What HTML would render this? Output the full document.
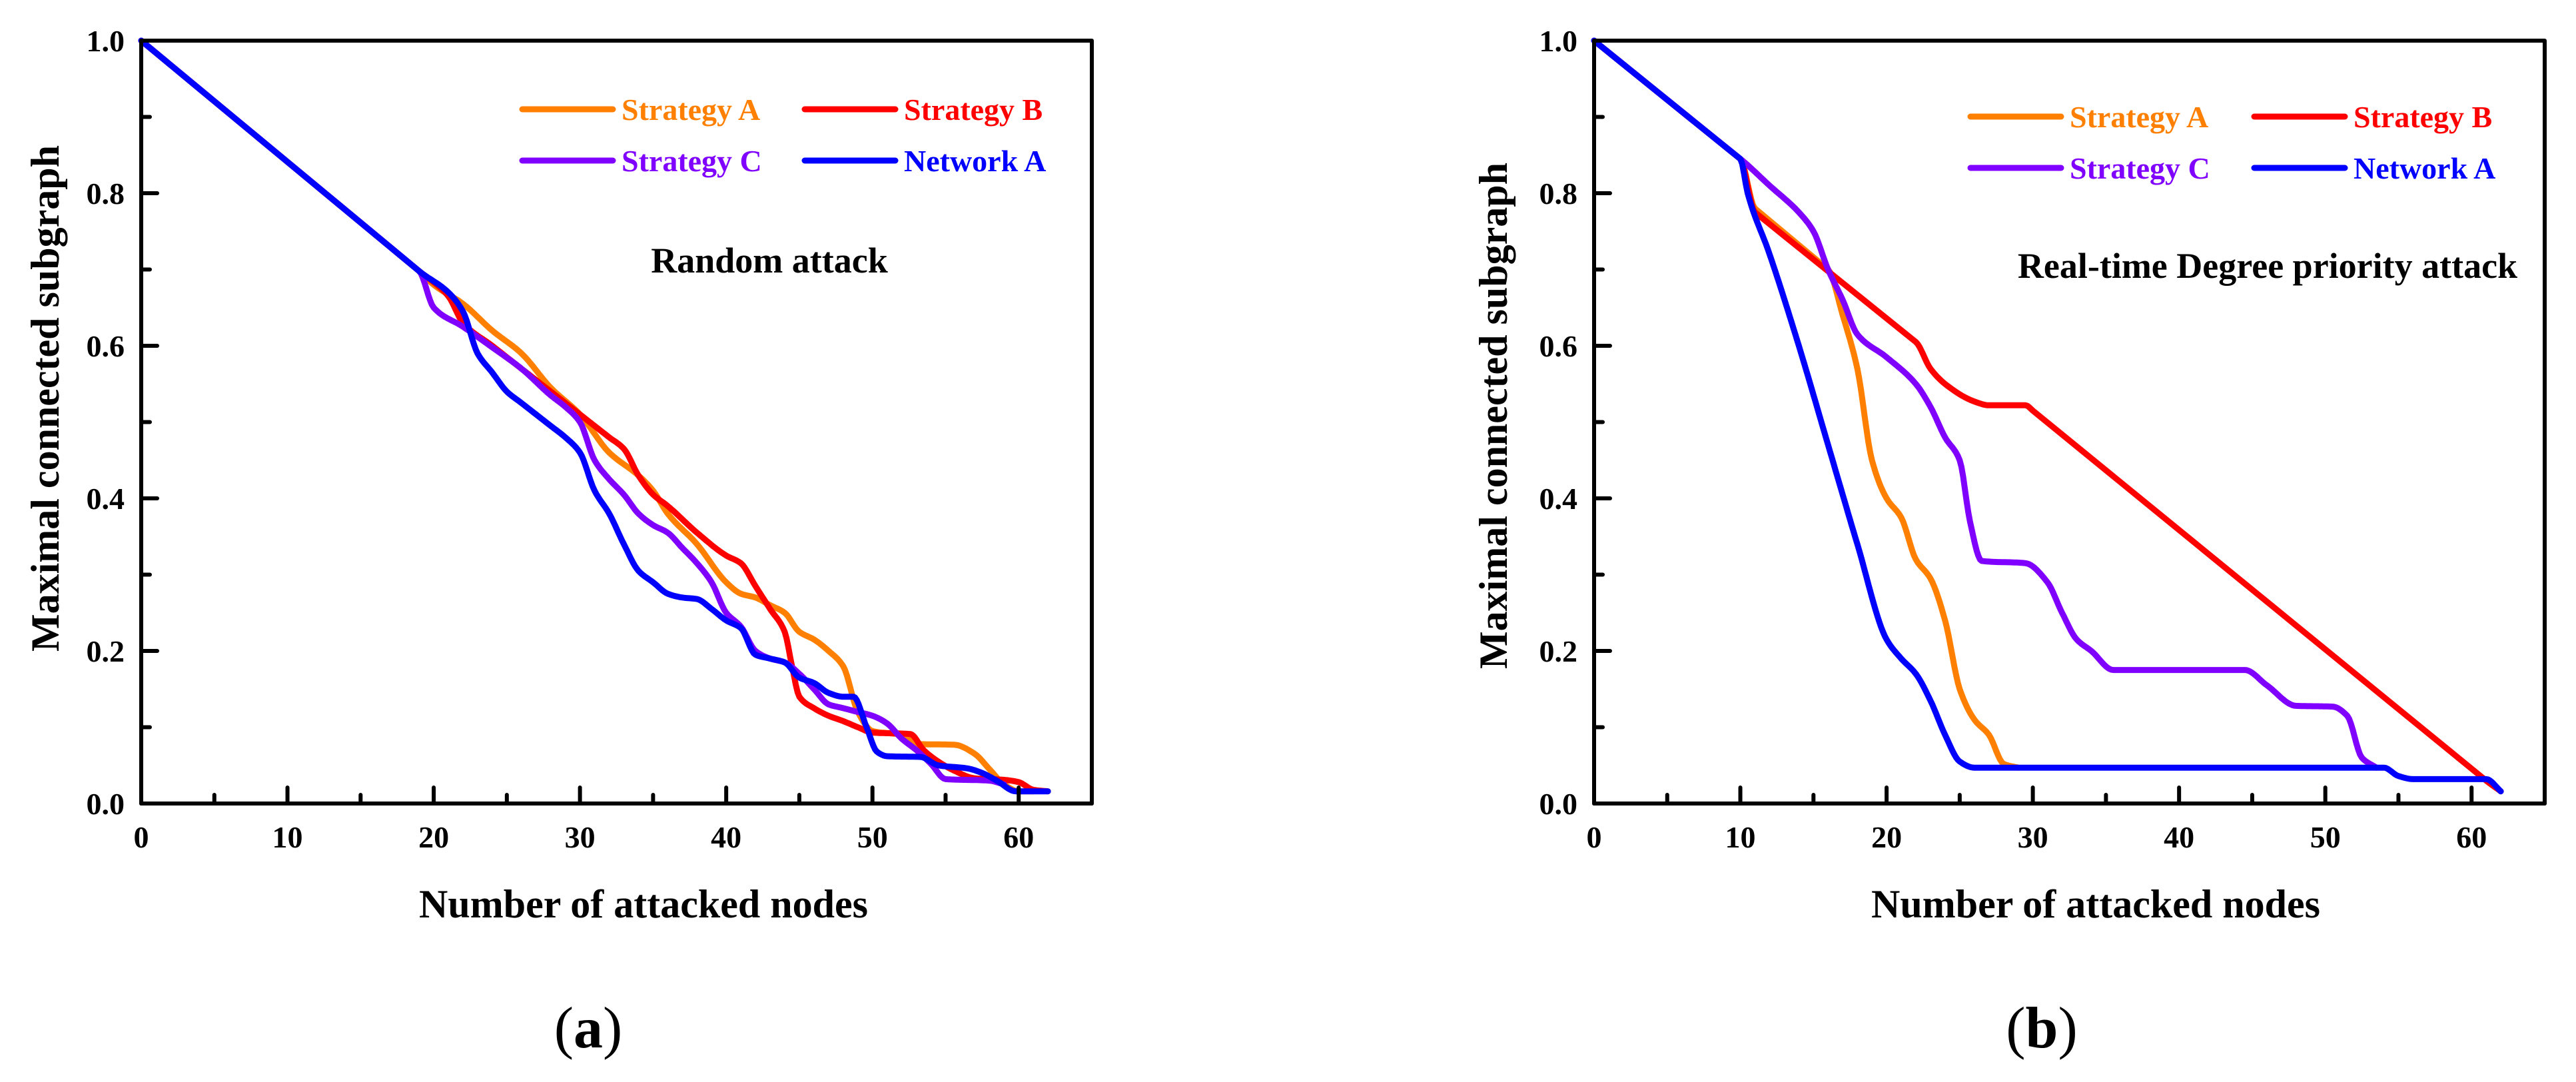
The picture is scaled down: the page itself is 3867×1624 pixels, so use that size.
<!DOCTYPE html>
<html><head><meta charset="utf-8"><style>
html,body{margin:0;padding:0;background:#fff;}
svg{display:block;}
text{font-family:"Liberation Serif","Times New Roman",serif;font-weight:bold;}
</style></head><body>
<svg id="fig" width="3867" height="1624" viewBox="0 0 3867 1624" xmlns="http://www.w3.org/2000/svg"></svg>
<script>
// ---- Panel (a) data: Random attack ----
const aStratAX=[0,19,20,22,24,26,28,30,32,34,35,36,38,40,41,42,43,44,45,46,47,48,49,50,52,53,55.6,57,58,59,60,61];
const aStratAY=[1,0.698,0.68,0.655,0.62,0.59,0.545,0.51,0.46,0.43,0.41,0.38,0.34,0.29,0.275,0.27,0.26,0.25,0.225,0.215,0.2,0.18,0.12,0.095,0.09,0.078,0.077,0.065,0.045,0.025,0.016,0.016];
const aStratBX=[0,19,21,22,24,26,28,30,32,33,34,35,36,38,40,41,42,43,44,44.5,45,46,47,48,49,50,52.6,53.5,54.5,55.6,57,59,60,61,62];
const aStratBY=[1,0.698,0.665,0.63,0.6,0.57,0.54,0.51,0.48,0.465,0.43,0.405,0.39,0.355,0.325,0.315,0.285,0.255,0.225,0.18,0.14,0.125,0.115,0.108,0.1,0.093,0.091,0.07,0.055,0.043,0.033,0.031,0.028,0.018,0.016];
const aStratCX=[0,19,20,22,24,26,28,29,30,31,32,33,34,35,36,37,38,39,40,41,42,43,44,45,46,47,48,49,50,51,52,53,54,55,58,59];
const aStratCY=[1,0.698,0.65,0.625,0.598,0.57,0.535,0.52,0.5,0.45,0.425,0.405,0.38,0.365,0.355,0.335,0.315,0.29,0.25,0.232,0.2,0.19,0.185,0.17,0.15,0.13,0.125,0.12,0.115,0.105,0.085,0.07,0.052,0.032,0.03,0.025];
const aNetX=[0,19,21,22,23,24,25,26,28,29,30,31,32,33,34,35,36,37,38,39,40,41,42,43,44,45,46,47,48,48.7,49.6,50.3,51,53.3,54.5,56.5,57.5,58.5,59.8,62];
const aNetY=[1,0.698,0.67,0.645,0.59,0.565,0.54,0.525,0.495,0.48,0.46,0.41,0.38,0.34,0.305,0.29,0.275,0.27,0.268,0.255,0.24,0.23,0.195,0.19,0.185,0.165,0.158,0.145,0.14,0.14,0.1,0.068,0.062,0.061,0.05,0.046,0.04,0.03,0.016,0.016];
// ---- Panel (b) data: Real-time Degree priority attack ----
const bStratAX=[0,10,11,16,17,18,19,20,21,22,23,24,25,26,27,28,29];
const bStratAY=[1,0.845,0.78,0.7,0.64,0.57,0.45,0.4,0.375,0.32,0.295,0.24,0.15,0.11,0.09,0.052,0.047];
const bStratBX=[0,10,11,22,23,24,26,27,29.5,30,61,62];
const bStratBY=[1,0.845,0.775,0.605,0.57,0.55,0.527,0.522,0.522,0.515,0.03,0.016];
const bStratCX=[0,10,12,14,15,16,17,18,20,22,23,24,25,25.7,26.5,29.5,31,32,33,34,35.5,44.5,46,48,50.5,51.5,52.5,53.5];
const bStratCY=[1,0.845,0.81,0.775,0.75,0.7,0.66,0.615,0.585,0.55,0.52,0.48,0.45,0.37,0.318,0.315,0.29,0.25,0.215,0.2,0.175,0.175,0.155,0.128,0.127,0.115,0.06,0.047];
const bNetX=[0,10,10.5,12,14,16,18,20,21,22,23,24,25,26,54,55,56,61,62];
const bNetY=[1,0.845,0.8,0.72,0.6,0.47,0.34,0.215,0.19,0.17,0.135,0.09,0.055,0.047,0.047,0.036,0.032,0.032,0.016];
const xTicks=[0,10,20,30,40,50,60];
const yTicks=["0.0","0.2","0.4","0.6","0.8","1.0"];
const legendLabels=["Strategy A","Strategy B","Strategy C","Network A"];
const colors=["#FF8000","#FF0000","#8000FF","#0000FF"];

const NS="http://www.w3.org/2000/svg";
const svg=document.getElementById('fig');
function mk(tag,attrs,parent){const e=document.createElementNS(NS,tag);for(const k in attrs)e.setAttribute(k,attrs[k]);(parent||svg).appendChild(e);return e;}

// monotone cubic; long segments (>3 units) drawn straight with matching tangents
function monotonePath(X,Y,xs,ys){
  const n=X.length,d=[],m=new Array(n),LONG=3;
  for(let i=0;i<n-1;i++)d.push((Y[i+1]-Y[i])/(X[i+1]-X[i]));
  m[0]=d[0];m[n-1]=d[n-2];
  for(let i=1;i<n-1;i++){
    if(d[i-1]*d[i]<=0)m[i]=0;
    else{const h0=X[i]-X[i-1],h1=X[i+1]-X[i];const w1=2*h1+h0,w2=h1+2*h0;m[i]=(w1+w2)/(w1/d[i-1]+w2/d[i]);}
  }
  for(let i=1;i<n-1;i++){
    const longPrev=X[i]-X[i-1]>LONG,longNext=X[i+1]-X[i]>LONG;
    if(longPrev&&!longNext)m[i]=d[i-1];
    else if(longNext&&!longPrev)m[i]=d[i];
  }
  let s="M"+xs(X[0]).toFixed(1)+","+ys(Y[0]).toFixed(1);
  for(let i=0;i<n-1;i++){
    const h=X[i+1]-X[i];
    if(h>LONG){s+=" L"+xs(X[i+1]).toFixed(1)+","+ys(Y[i+1]).toFixed(1);continue;}
    const steps=Math.max(2,Math.ceil(h*8));
    for(let k=1;k<=steps;k++){
      const t=k/steps,t2=t*t,t3=t2*t;
      const y=(2*t3-3*t2+1)*Y[i]+(t3-2*t2+t)*h*m[i]+(-2*t3+3*t2)*Y[i+1]+(t3-t2)*h*m[i+1];
      s+=" L"+xs(X[i]+t*h).toFixed(1)+","+ys(y).toFixed(1);
    }
  }
  return s;
}

function panel(cfg){
  const L=cfg.left,R=L+1427,T=61,B=1206;
  const xs=v=>L+v*(R-L)/65;
  const ys=v=>B-v*(B-T);
  const g=mk('g',{});
  
  
  const seriesNames=['strategy-a-line','strategy-b-line','strategy-c-line','network-a-line'];
  [0,1,2,3].forEach(i=>{
    const X=cfg.series[i][0],Y=cfg.series[i][1];
    const p=mk('path',{d:monotonePath(X,Y,xs,ys),fill:'none',stroke:colors[i],'stroke-width':9,'stroke-linejoin':'round','stroke-linecap':'round'},g);
    
    
  });
  const f=mk('rect',{x:L,y:T,width:R-L,height:B-T,fill:'none',stroke:'#000','stroke-width':6,'stroke-linejoin':'round'},g);
  
  
  for(let v=0;v<=65;v+=5){
    const major=v%10===0;
    mk('line',{x1:xs(v),x2:xs(v),y1:B,y2:B-(major?24:13),stroke:'#000','stroke-width':6,'stroke-linecap':'round'},g);
  }
  xTicks.forEach(v=>{
    const t=mk('text',{x:xs(v),y:1272,'font-size':46,'text-anchor':'middle'},g);
    t.textContent=v;
    
    
  });
  for(let i=0;i<=10;i++){
    const v=i/10,major=i%2===0;
    mk('line',{x1:L,x2:L+(major?24:13),y1:ys(v),y2:ys(v),stroke:'#000','stroke-width':6,'stroke-linecap':'round'},g);
  }
  yTicks.forEach(s=>{
    const t=mk('text',{x:L-25,y:ys(parseFloat(s))+16,'font-size':46,'text-anchor':'end'},g);
    t.textContent=s;
    
    
  });
  const xt=mk('text',{x:cfg.xTitleC,y:1377,'font-size':60,'text-anchor':'middle'},g);
  xt.textContent="Number of attacked nodes";
  
  
  const yt=mk('text',{x:0,y:0,'font-size':60,'text-anchor':'middle',transform:`translate(${cfg.yTitleX},${cfg.yTitleY}) rotate(-90)`},g);
  yt.textContent="Maximal connected subgraph";
  
  
  const lg=mk('g',{},g);
  
  
  legendLabels.forEach((lab,i)=>{
    const col=i%2,row=Math.floor(i/2);
    const lx=cfg.legX+col*cfg.legDX, ly=cfg.legY+row*77;
    const ln=mk('line',{x1:lx,x2:lx+136,y1:ly,y2:ly,stroke:colors[i],'stroke-width':9,'stroke-linecap':'round'},lg);
    
    
    const t=mk('text',{x:lx+149,y:ly+16,'font-size':46,fill:colors[i]},lg);
    t.textContent=lab;
    
    
  });
  const ann=mk('text',{x:cfg.annX,y:cfg.annY,'font-size':54,'text-anchor':'middle'},g);
  ann.textContent=cfg.ann;
  
  
  const cap=mk('text',{x:cfg.capX,y:1572,'font-size':88,'text-anchor':'middle',style:'font-weight:normal'},g);
  cap.innerHTML='(<tspan style="font-weight:bold">'+cfg.cap+'</tspan>)';
  
  
}

panel({name:'panel-a-random-attack',left:212,series:[[aStratAX,aStratAY],[aStratBX,aStratBY],[aStratCX,aStratCY],[aNetX,aNetY]],
  xTitleC:966,yTitleX:88,yTitleY:598,legX:784,legDX:424,legY:164,annX:1155,annY:409,ann:"Random attack",capX:883,cap:"a"});
panel({name:'panel-b-degree-attack',left:2393,series:[[bStratAX,bStratAY],[bStratBX,bStratBY],[bStratCX,bStratCY],[bNetX,bNetY]],
  xTitleC:3146,yTitleX:2262,yTitleY:624,legX:2958,legDX:426,legY:175,annX:3404,annY:417,ann:"Real-time Degree priority attack",capX:3065,cap:"b"});
</script>
</body></html>
